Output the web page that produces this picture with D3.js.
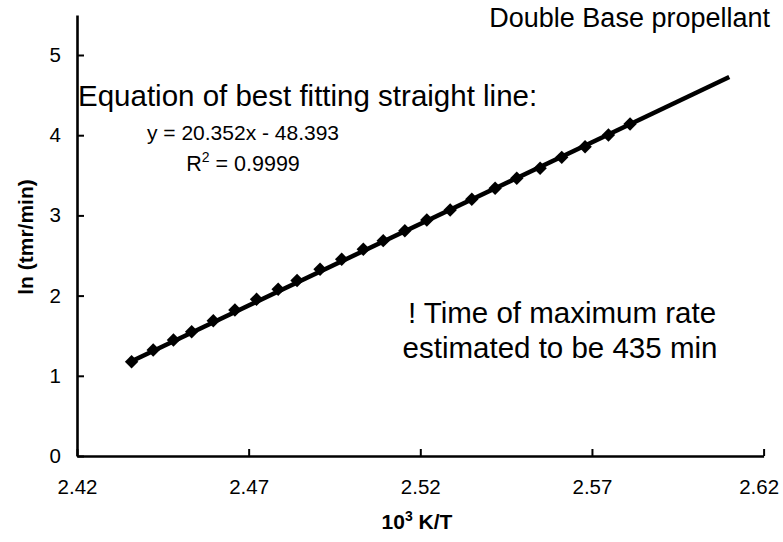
<!DOCTYPE html>
<html>
<head>
<meta charset="utf-8">
<script src="https://d3js.org/d3.v7.min.js"></script>
<style>
  body { margin: 0; background: #fff; }
  text { font-family: "Liberation Sans", Arial, Helvetica, sans-serif; fill: #000; }
</style>
</head>
<body>
<svg id="chart" width="783" height="542"></svg>
<script>
// measured points: 10^3 K/T vs ln(tmr/min)
var invT = [2.4359, 2.4422, 2.4481, 2.4534, 2.4597, 2.4660, 2.4723, 2.4786,
            2.4841, 2.4908, 2.4971, 2.5034, 2.5092, 2.5155, 2.5219, 2.5287,
            2.5350, 2.5418, 2.5481, 2.5549, 2.5612, 2.5680, 2.5748, 2.5811];
var lnTmr = [1.176, 1.322, 1.446, 1.550, 1.687, 1.820, 1.954, 2.079,
             2.188, 2.328, 2.453, 2.577, 2.685, 2.809, 2.943, 3.067,
             3.201, 3.338, 3.463, 3.587, 3.724, 3.857, 4.002, 4.140];

// trendline from the printed equation
var fitSlope = 20.352;
var fitIntercept = -48.393;
var fitRange = [2.4359, 2.61];

var xTicks = [2.42, 2.47, 2.52, 2.57, 2.62];
var yTicks = [0, 1, 2, 3, 4, 5];

var svg = d3.select('#chart');

var x = d3.scaleLinear()
  .domain([2.42, 2.62])
  .range([77, 763.6]);

var y = d3.scaleLinear()
  .domain([0, 5.5])
  .range([456, 14.9]);

// axes, ticks point inward
var xAxis = svg.append('g')
  .attr('transform', 'translate(0,456)')
  .call(d3.axisBottom(x).tickValues(xTicks).tickFormat(d3.format('.2f'))
    .tickSizeInner(-7).tickSizeOuter(0).tickPadding(23));

var yAxis = svg.append('g')
  .attr('transform', 'translate(77,0)')
  .call(d3.axisLeft(y).tickValues(yTicks).tickFormat(d3.format('d'))
    .tickSizeInner(-7).tickSizeOuter(0).tickPadding(16));

[xAxis, yAxis].forEach(function(g) {
  g.attr('font-size', 20.5).attr('font-family', '"Liberation Sans", Arial, sans-serif');
  g.select('.domain').attr('stroke', '#000').attr('stroke-width', 2.6);
  g.selectAll('.tick line').attr('stroke', '#000').attr('stroke-width', 2);
});

// last x label sits a bit left so it stays inside the frame
xAxis.selectAll('.tick text')
  .filter(function(d) { return d === 2.62; })
  .attr('dx', -5);

// best fit line
var fitLine = d3.line()
  .x(function(d) { return x(d); })
  .y(function(d) { return y(fitSlope * d + fitIntercept); });

svg.append('path')
  .datum(fitRange)
  .attr('d', fitLine)
  .attr('fill', 'none')
  .attr('stroke', '#000')
  .attr('stroke-width', 4.5);

// diamond markers
var pts = invT.map(function(v, i) { return [v, lnTmr[i]]; });
var sq = d3.symbol().type(d3.symbolSquare).size(90);

svg.selectAll('path.pt')
  .data(pts)
  .enter().append('path')
  .attr('class', 'pt')
  .attr('d', sq)
  .attr('fill', '#000')
  .attr('transform', function(d) {
    return 'translate(' + x(d[0]) + ',' + y(d[1]) + ') rotate(45)';
  });

// axis titles
svg.append('text')
  .attr('x', 417).attr('y', 529)
  .attr('text-anchor', 'middle')
  .attr('font-size', 21).attr('font-weight', 'bold')
  .html('10<tspan dy="-8" font-size="14">3</tspan><tspan dy="8"> K/T</tspan>');

svg.append('text')
  .attr('transform', 'translate(33,237) rotate(-90)')
  .attr('text-anchor', 'middle')
  .attr('font-size', 21).attr('font-weight', 'bold')
  .text('ln (tmr/min)');

// annotations
svg.append('text')
  .attr('x', 770).attr('y', 27)
  .attr('text-anchor', 'end')
  .attr('font-size', 27)
  .text('Double Base propellant');

svg.append('text')
  .attr('x', 78).attr('y', 106)
  .attr('font-size', 29.5)
  .text('Equation of best fitting straight line:');

svg.append('text')
  .attr('x', 243).attr('y', 140)
  .attr('text-anchor', 'middle')
  .attr('font-size', 21)
  .text('y = 20.352x - 48.393');

svg.append('text')
  .attr('x', 243).attr('y', 171)
  .attr('text-anchor', 'middle')
  .attr('font-size', 21.5)
  .html('R<tspan dy="-9" font-size="14">2</tspan><tspan dy="9"> = 0.9999</tspan>');

svg.append('text')
  .attr('x', 562).attr('y', 323)
  .attr('text-anchor', 'middle')
  .attr('font-size', 29.5)
  .text('! Time of maximum rate');

svg.append('text')
  .attr('x', 560).attr('y', 358)
  .attr('text-anchor', 'middle')
  .attr('font-size', 29.5)
  .text('estimated to be 435 min');
</script>
</body>
</html>
